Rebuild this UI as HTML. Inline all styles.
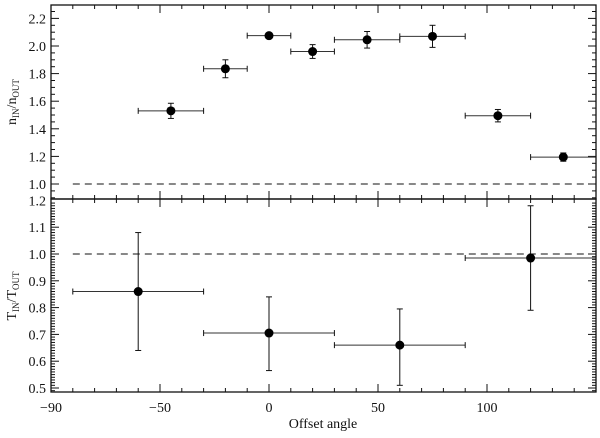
<!DOCTYPE html>
<html><head><meta charset="utf-8"><style>
body{margin:0;background:#fff;}
svg text{font-family:"Liberation Serif",serif;font-size:14px;fill:#111;}
</style></head><body>
<svg id="c" width="600" height="433" xmlns="http://www.w3.org/2000/svg"></svg>
<script>
const topX=[-45,-20,0,20,45,75,105,135];
const topY=[1.53,1.835,2.075,1.96,2.045,2.07,1.495,1.195];
const topXErr=[15,10,10,10,15,15,15,15];
const topYErr=[0.055,0.065,0.01,0.05,0.06,0.08,0.045,0.03];
const botX=[-60,0,60,120];
const botY=[0.86,0.705,0.66,0.985];
const botXErr=[30,30,30,30];
const botYLo=[0.64,0.565,0.51,0.79];
const botYHi=[1.08,0.84,0.795,1.18];
const xTicks=[0,50,100];
const topTicks=[1.0,1.2,1.4,1.6,1.8,2.0,2.2];
const botTicks=[0.5,0.6,0.7,0.8,0.9,1.0,1.1,1.2];

const L=51,R=596,T=5,M=199,B=392;
const X=v=>269+(v)*2.18;
const Yt=v=>184-(v-1.0)*138;
const Yb=v=>388-(v-0.5)*268;
const svg=document.getElementById('c');
const NS='http://www.w3.org/2000/svg';
function el(tag,a,p){const e=document.createElementNS(NS,tag);for(const k in a)e.setAttribute(k,a[k]);(p||svg).appendChild(e);return e;}
function line(x1,y1,x2,y2,name,extra){const e=el('line',Object.assign({x1,y1,x2,y2,stroke:'#111','stroke-width':1},extra||{}));

return e;}
function text(x,y,s,name,anchor){const e=el('text',{x,y,'text-anchor':anchor||'middle'});e.textContent=s;

return e;}

const f1=el('rect',{x:L,y:T,width:R-L,height:M-T,fill:'none',stroke:'#111','stroke-width':1.3});


const f2=el('rect',{x:L,y:M,width:R-L,height:B-M,fill:'none',stroke:'#111','stroke-width':1.3});



for(let v=-100;v<=150;v+=10){const x=X(v);const major=v%50===0;const len=major?8:4;
 line(x,T,x,T+len,'x-tick');line(x,M,x,M-len,'x-tick');line(x,M,x,M+len,'x-tick');line(x,B,x,B-len,'x-tick');}
text(51,412,'−90','x-tick-label');
xTicks.forEach(v=>text(X(v),412,v===0?'0':String(v),'x-tick-label'));
text(X(-50),412,'−50','x-tick-label');
text(323,428,'Offset angle','x-axis-title');

for(let v=0.9;v<=2.3;v+=0.05){const y=Yt(v);if(y<T||y>M)continue;const maj=Math.abs(Math.round(v*5)-v*5)<1e-6;const len=maj?8:4;
 line(L,y,L+len,y,'y-tick-top');line(R,y,R-len,y,'y-tick-top');}
topTicks.forEach(v=>text(L-5,Yt(v)+5,v.toFixed(1),'y-tick-label-top','end'));
for(let v=0.49;v<=1.2;v+=0.01){const y=Yb(v);if(y<M||y>B)continue;const maj=Math.abs(Math.round(v*10)-v*10)<1e-6;const len=maj?8:4;
 line(L,y,L+len,y,'y-tick-bottom');line(R,y,R-len,y,'y-tick-bottom');}
botTicks.forEach(v=>text(L-5,Yb(v)+5,v.toFixed(1),'y-tick-label-bottom','end'));

const t1=el('text',{transform:'translate(16,102) rotate(-90)','text-anchor':'middle'});
t1.innerHTML='n<tspan font-size="9" dy="3">IN</tspan><tspan dy="-3">/n</tspan><tspan font-size="9" dy="3">OUT</tspan>';


const t2=el('text',{transform:'translate(16,296) rotate(-90)','text-anchor':'middle'});
t2.innerHTML='T<tspan font-size="9" dy="3">IN</tspan><tspan dy="-3">/T</tspan><tspan font-size="9" dy="3">OUT</tspan>';



line(X(-90),Yt(1.0),R,Yt(1.0),'reference-line-top',{'stroke-dasharray':'7,5'});
line(X(-90),Yb(1.0),R,Yb(1.0),'reference-line-bottom',{'stroke-dasharray':'7,5'});

function point(x,y,x0,x1,y0,y1,name){
 const g=el('g',{});
 
 
 const xa=Math.max(x0,L),xb=Math.min(x1,R);
 line(xa,y,xb,y,'x-error-bar',{stroke:'#333'});g.appendChild(svg.lastChild);
 if(x0>=L){line(x0,y-3,x0,y+3,'x-error-cap');g.appendChild(svg.lastChild);}
 if(x1<=R){line(x1,y-3,x1,y+3,'x-error-cap');g.appendChild(svg.lastChild);}
 line(x,y0,x,y1,'y-error-bar');g.appendChild(svg.lastChild);
 line(x-3,y0,x+3,y0,'y-error-cap');g.appendChild(svg.lastChild);
 line(x-3,y1,x+3,y1,'y-error-cap');g.appendChild(svg.lastChild);
 const c=el('circle',{cx:x,cy:y,r:4.5,fill:'#000'},g);
 
 
}
topX.forEach((v,i)=>point(X(v),Yt(topY[i]),X(v-topXErr[i]),X(v+topXErr[i]),Yt(topY[i]-topYErr[i]),Yt(topY[i]+topYErr[i]),'density-ratio-point'));
botX.forEach((v,i)=>point(X(v),Yb(botY[i]),X(v-botXErr[i]),X(v+botXErr[i]),Yb(botYLo[i]),Yb(botYHi[i]),'temperature-ratio-point'));
</script>
</body></html>
